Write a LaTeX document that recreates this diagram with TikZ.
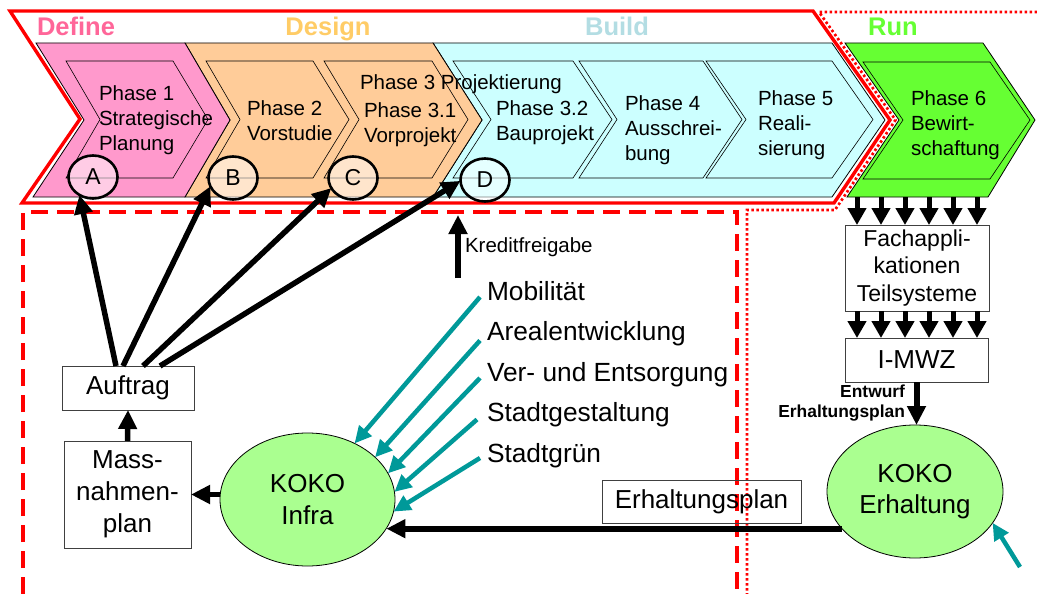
\documentclass[tikz,border=0pt]{standalone}
\usepackage{fontspec}
\setmainfont{Liberation Sans}
\usetikzlibrary{arrows.meta,shapes.geometric,calc}

\definecolor{defpink}{HTML}{FF99CC}
\definecolor{despeach}{HTML}{FFCC99}
\definecolor{bldcyan}{HTML}{CCFFFF}
\definecolor{rungreen}{HTML}{66FF33}
\definecolor{kokogreen}{HTML}{AAFF90}
\definecolor{inflow}{HTML}{009999}
\definecolor{deflbl}{HTML}{FF6699}
\definecolor{deslbl}{HTML}{FFCC66}
\definecolor{bldlbl}{HTML}{B3DDE3}
\definecolor{runlbl}{HTML}{66FF33}

\begin{document}
\begin{tikzpicture}[x=1pt,y=-1pt,
  every node/.style={inner sep=0pt, outer sep=0pt},
  band/.style={draw=black, line width=0.8pt, line join=miter},
  stage/.style={draw=black, line width=0.6pt, line join=miter},
  ptext/.style={align=left, anchor=north west, font=\fontsize{20.5}{25}\selectfont},
  ltext/.style={anchor=base west, font=\fontsize{26.3}{32}\selectfont},
  box/.style={draw=black!75, line width=0.9pt, fill=white, align=center, font=\fontsize{26}{32}\selectfont},
  koko/.style={ellipse, draw=black, line width=0.8pt, fill=kokogreen, align=center, font=\fontsize{26}{31.5}\selectfont},
  milestone/.style={ellipse, draw=black, line width=2.6pt, fill=white, fill opacity=0.5, text opacity=1, minimum width=49pt, minimum height=43pt, font=\fontsize{23}{23}\selectfont},
  blk/.style={draw=black, line width=5.5pt, -{Triangle[length=19pt,width=18pt]}},
  dn/.style={draw=black, line width=5pt, -{Triangle[length=17pt,width=18pt]}},
  tl/.style={draw=inflow, line width=4.5pt, -{Triangle[length=17pt,width=16pt]}},
  hdr/.style={anchor=base, font=\bfseries\fontsize{25.5}{28}\selectfont},
]
\useasboundingbox (0,0) rectangle (1037,594);
\fill[white] (0,0) rectangle (1037,594);

% ---- phase bands ----
\filldraw[band, fill=rungreen] (845,43) -- (983,43) -- (1035,120) -- (988,197) -- (847,197) -- (899,120) -- cycle;
\filldraw[band, fill=bldcyan] (433,43) -- (832,43) -- (885,120) -- (832,197) -- (433,197) -- (482,120) -- cycle;
\filldraw[band, fill=despeach] (185,43) -- (433,43) -- (482,120) -- (433,197) -- (185,197) -- (230,120) -- cycle;
\filldraw[band, fill=defpink] (36,43) -- (185,43) -- (230,120) -- (185,197) -- (33,197) -- (84,120) -- cycle;

% ---- single phases ----
\draw[stage] (66,61) -- (173,61) -- (208,119.5) -- (173,178) -- (66,178) -- (100,119.5) -- cycle;
\draw[stage] (206,61) -- (313,61) -- (349,119.5) -- (313,178) -- (206,178) -- (240,119.5) -- cycle;
\draw[stage] (324,61) -- (432,61) -- (468,119.5) -- (432,178) -- (324,178) -- (359,119.5) -- cycle;
\draw[stage] (453,61) -- (573,61) -- (612,119.5) -- (573,178) -- (453,178) -- (491,119.5) -- cycle;
\draw[stage] (579,61) -- (703,61) -- (742,119.5) -- (703,178) -- (579,178) -- (617,119.5) -- cycle;
\draw[stage] (706,61) -- (832,61) -- (873,119.5) -- (832,178) -- (706,178) -- (746,119.5) -- cycle;
\draw[stage] (863,62) -- (990,62) -- (1030,120) -- (990,179) -- (863,179) -- (903,120) -- cycle;

% ---- frames ----
\draw[red, line width=3.4pt, line join=miter] (10,11) -- (813,11) -- (890,120) -- (834,203) -- (22,203) -- (80,119) -- cycle;
\draw[red, line width=2.7pt, dash pattern=on 2.5pt off 2.5pt] (1037,12) -- (819,12) -- (895.5,120) -- (835,210) -- (747,210) -- (747,594);
\draw[red, line width=3.2pt, dash pattern=on 17pt off 9pt] (23,594) -- (23,212) -- (737,212) -- (737,594);

% ---- milestones ----
\node[milestone] (A) at (93,177) {A};
\node[milestone] (B) at (233,178) {B};
\node[milestone] (C) at (353,178) {C};
\node[milestone] (D) at (485,180) {D};

% ---- phase texts ----
\node[ptext] (p1) at (99,86) {Phase 1\\Strategische\\Planung};
\node[ptext] (p2) at (247,101) {Phase 2\\Vorstudie};
\node[ptext] (p3) at (360,75) {Phase 3 Projektierung};
\node[ptext] (p31) at (364,103) {Phase 3.1\\Vorprojekt};
\node[ptext] (p32) at (496,101) {Phase 3.2\\Bauprojekt};
\node[ptext] (p4) at (625,96) {Phase 4\\Ausschrei-\\bung};
\node[ptext] (p5) at (758,91) {Phase 5\\Reali-\\sierung};
\node[ptext] (p6) at (911,91) {Phase 6\\Bewirt-\\schaftung};

% ---- stage headers ----
\node[hdr, text=deflbl] (hdef) at (76,36) {Define};
\node[hdr, text=deslbl] (hdes) at (328,36) {Design};
\node[hdr, text=bldlbl] (hbld) at (617,36) {Build};
\node[hdr, text=runlbl] (hrun) at (893,36) {Run};

% ---- lower part ----
\node[box, minimum width=132pt, minimum height=44pt] (auf) at (128,388) {Auftrag};
\node[box, minimum width=127pt, minimum height=107pt] (mass) at (127.5,494.5) {Mass-\\nahmen-\\plan};
\node[koko, minimum width=175pt, minimum height=133pt] (KI) at (307.5,499.5) {KOKO\\Infra};
\node[koko, minimum width=176pt, minimum height=133pt] (KE) at (915,491.5) {KOKO\\Erhaltung};
\node[box, fill=none, minimum width=199pt, minimum height=43pt] (ep) at (701.5,501.5) {Erhaltungsplan};
\node[box, minimum width=144pt, minimum height=86pt, font=\fontsize{23}{27.5}\selectfont] (fach) at (917,268) {Fachappli-\\kationen\\Teilsysteme};
\node[box, minimum width=143pt, minimum height=44pt] (imwz) at (916.5,360) {I-MWZ};

\node[ltext] (mob) at (487,300) {Mobilität};
\node[ltext] (are) at (487,340.5) {Arealentwicklung};
\node[ltext] (ver) at (487,381) {Ver- und Entsorgung};
\node[ltext] (sg) at (487,421.5) {Stadtgestaltung};
\node[ltext] (gr) at (487,462) {Stadtgrün};

\coordinate (kfrom) at (458,278);
\coordinate (kto) at (458,215);
\node[anchor=west, font=\fontsize{20.5}{22}\selectfont] (kredit) at (465,247) {Kreditfreigabe};
\node[anchor=east, align=right, font=\bfseries\fontsize{17.4}{20}\selectfont] (entw) at (905,403) {Entwurf\\Erhaltungsplan};

% ---- connectors ----
\draw[blk] ([xshift=-12pt]auf.north) -- (A.233);
\draw[blk] ([xshift=-5pt]auf.north) -- (B.200);
\draw[blk] ([xshift=15pt]auf.north) -- (C.205);
\draw[blk] ([xshift=32pt]auf.north) -- (D.182);
\draw[blk] (mass.north) -- (auf.south);
\draw[blk] (KI.west |- mass.east) -- (mass.east);
\draw[blk] (kfrom) -- (kto);
\draw[blk, line width=6pt] (KE.207) -- (KE.207 -| KI.-20.6);
\draw[blk, line width=6pt] (imwz.south) -- (imwz.south |- KE.north);

\draw[tl] ([shift={(-7pt,3pt)}]mob.base west) -- (KI.50);
\draw[tl] ([shift={(-7pt,0pt)}]are.base west) -- (KI.32);
\draw[tl] ([shift={(-7pt,3pt)}]ver.base west) -- (KI.18);
\draw[tl] ([shift={(-10pt,2pt)}]sg.base west) -- (KI.5);
\draw[tl] ([shift={(-7pt,4pt)}]gr.base west) -- (KI.-8);
\coordinate (eflow) at (1020,567);
\draw[tl] (eflow) -- (KE.-22);

\foreach \dx in {-60,-36,-12,12,36,60} {
  \draw[dn] ([xshift=\dx pt]fach.north) ++(0,-28) -- ([xshift=\dx pt]fach.north);
  \draw[dn] ([xshift=\dx pt]fach.south) -- ([xshift=\dx pt]fach.south |- imwz.north);
}
\end{tikzpicture}
\end{document}
